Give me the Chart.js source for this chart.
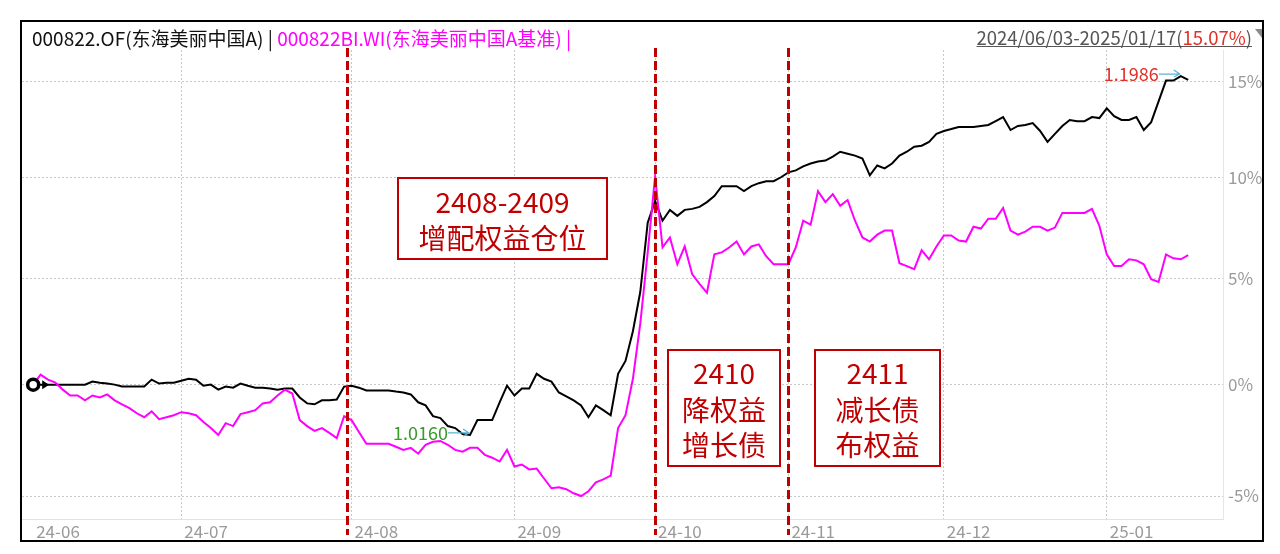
<!DOCTYPE html>
<html><head><meta charset="utf-8">
<script src="https://cdn.jsdelivr.net/npm/chart.js@4.4.1/dist/chart.umd.min.js"></script>
<style>html,body{margin:0;padding:0;background:#fff;}canvas{display:block;}</style>
</head><body>
<canvas id="c" width="1280" height="554"></canvas>
<script>
const fundName = '000822.OF(东海美丽中国A)';
const benchName = '000822BI.WI(东海美丽中国A基准)';
const periodText = '2024/06/03-2025/01/17';
const periodReturn = '15.07%';
const monthTickIndex = [0, 20, 43, 65, 84, 102, 123, 145];
const monthTickLabels = ['24-06', '24-07', '24-08', '24-09', '24-10', '24-11', '24-12', '25-01'];
const yTickPct = [-5, 0, 5, 10, 15];
const eventLineX = [42.4, 84, 102];
const eventBoxLines = [['2408-2409', '增配权益仓位'], ['2410', '降权益', '增长债'], ['2411', '减长债', '布权益']];
const fundMaxNav = '1.1986';
const fundMinNav = '1.0160';
// cumulative return in %, base day (index 0) then one value per trading day
const fundReturn = [0,
  0,0,0,0,0,0,0,0.14,0.09,0.05,
  0,-0.09,-0.09,-0.09,-0.09,0.23,0.05,0.09,0.09,0.18,
  0.27,0.23,-0.05,0,-0.23,-0.09,-0.14,0.05,-0.05,-0.14,
  -0.14,-0.18,-0.23,-0.18,-0.18,-0.59,-0.86,-0.9,-0.72,-0.72,
  -0.68,-0.09,-0.05,-0.14,-0.27,-0.27,-0.27,-0.27,-0.32,-0.36,
  -0.45,-0.81,-0.95,-1.44,-1.53,-1.89,-1.98,-2.25,-2.29,-1.62,
  -1.62,-1.62,-0.81,-0.05,-0.5,-0.18,-0.18,0.5,0.27,0.14,
  -0.36,-0.54,-0.72,-0.95,-1.49,-0.95,-1.17,-1.4,0.5,1.1,
  2.49,4.37,7.74,8.82,7.84,8.38,8.08,8.38,8.43,8.53,
  8.77,9.07,9.57,9.57,9.57,9.32,9.57,9.72,9.82,9.82,
  10.02,10.27,10.37,10.57,10.72,10.82,10.87,11.07,11.32,11.22,
  11.12,10.97,10.12,10.62,10.47,10.72,11.12,11.32,11.58,11.63,
  11.83,12.24,12.39,12.49,12.6,12.6,12.6,12.65,12.7,12.9,
  13.11,12.44,12.65,12.7,12.8,12.39,11.83,12.24,12.65,12.96,
  12.9,12.9,13.11,13.06,13.57,13.16,12.96,12.96,13.11,12.44,
  12.85,13.93,15.03,15.03,15.27,15.07];
const benchReturn = [0,
  0.46,0.23,0.09,-0.23,-0.5,-0.5,-0.72,-0.5,-0.59,-0.45,
  -0.72,-0.9,-1.08,-1.31,-1.49,-1.22,-1.58,-1.49,-1.4,-1.26,
  -1.31,-1.4,-1.71,-1.98,-2.29,-1.76,-1.89,-1.35,-1.26,-1.17,
  -0.86,-0.81,-0.5,-0.23,-0.41,-1.62,-1.89,-2.11,-1.98,-2.2,
  -2.43,-1.44,-1.62,-2.16,-2.69,-2.69,-2.69,-2.69,-2.82,-2.96,
  -2.87,-3.13,-2.73,-2.6,-2.56,-2.73,-2.96,-3.04,-2.87,-2.87,
  -3.18,-3.31,-3.48,-2.96,-3.7,-3.61,-3.83,-3.79,-4.23,-4.66,
  -4.62,-4.7,-4.88,-5.0,-4.79,-4.4,-4.27,-4.1,-1.98,-1.4,
  0.27,2.86,6.28,10.07,6.52,7.01,5.7,6.57,5.22,4.75,
  4.32,6.18,6.28,6.52,6.81,6.18,6.57,6.67,6.09,5.7,
  5.7,5.7,6.52,7.84,7.64,9.32,8.77,9.17,8.58,8.87,
  7.84,7.01,6.81,7.15,7.35,7.35,5.75,5.61,5.46,6.38,
  5.94,6.57,7.11,7.11,6.86,6.81,7.54,7.45,7.94,7.94,
  8.48,7.35,7.15,7.3,7.54,7.54,7.35,7.5,8.23,8.23,
  8.23,8.23,8.43,7.59,6.18,5.61,5.61,5.94,5.89,5.7,
  4.98,4.84,6.18,5.99,5.94,6.14];

const toPts = arr => arr.map((r, i) => ({x: i, y: 1 + r / 100}));
const FONT = '"Noto Sans CJK SC", "Noto Sans", sans-serif';

const deco = {
  id: 'deco',
  beforeDraw(chart) {
    const c = chart.ctx; c.save(); c.fillStyle = '#fff'; c.fillRect(0, 0, chart.width, chart.height); c.restore();
  },
  afterDatasetsDraw(chart) {
    const {ctx, chartArea: a, scales: {x, y}} = chart;
    ctx.save();
    // event dashed lines
    ctx.strokeStyle = '#c00000'; ctx.lineWidth = 3; ctx.setLineDash([9, 4]);
    eventLineX.forEach(v => {
      const px = Math.round(x.getPixelForValue(v)) + 0.5;
      ctx.beginPath(); ctx.moveTo(px, a.top - 2); ctx.lineTo(px, x.bottom - 6); ctx.stroke();
    });
    ctx.setLineDash([]);
    // annotation boxes
    const boxes = [
      {l: 398, t: 178, r: 607, b: 259, ys: [202, 238]},
      {l: 668, t: 350, r: 780, b: 466, ys: [373, 410, 445]},
      {l: 815, t: 350, r: 940, b: 466, ys: [373, 410, 445]}
    ];
    boxes.forEach((bx, k) => {
      ctx.fillStyle = '#fff'; ctx.fillRect(bx.l, bx.t, bx.r - bx.l, bx.b - bx.t);
      ctx.strokeStyle = '#c00000'; ctx.lineWidth = 2; ctx.strokeRect(bx.l, bx.t, bx.r - bx.l, bx.b - bx.t);
      ctx.fillStyle = '#c00000'; ctx.font = '28px ' + FONT; ctx.textAlign = 'center'; ctx.textBaseline = 'middle';
      eventBoxLines[k].forEach((s, j) => ctx.fillText(s, (bx.l + bx.r) / 2, bx.ys[j]));
    });
    // start marker
    const sx = x.getPixelForValue(0), sy = y.getPixelForValue(1);
    ctx.beginPath(); ctx.arc(sx, sy, 5.5, 0, Math.PI * 2); ctx.fillStyle = '#fff'; ctx.fill();
    ctx.lineWidth = 3.5; ctx.strokeStyle = '#000'; ctx.stroke();
    ctx.beginPath(); ctx.moveTo(sx + 9, sy - 4.5); ctx.lineTo(sx + 16, sy); ctx.lineTo(sx + 9, sy + 4.5); ctx.closePath(); ctx.fillStyle = '#000'; ctx.fill();
    // max / min labels
    let iMax = 0, iMin = 0;
    fundReturn.forEach((v, i) => { if (v > fundReturn[iMax]) iMax = i; if (v < fundReturn[iMin]) iMin = i; });
    const lab = (i, txt, col) => {
      const px = x.getPixelForValue(i), py = y.getPixelForValue(1 + fundReturn[i] / 100);
      const ay = py - 2;
      ctx.strokeStyle = '#59b4cf'; ctx.lineWidth = 1.2;
      ctx.beginPath(); ctx.moveTo(px - 22, ay); ctx.lineTo(px - 1, ay); ctx.moveTo(px - 7, ay - 4); ctx.lineTo(px - 1, ay); ctx.lineTo(px - 7, ay + 3); ctx.stroke();
      ctx.fillStyle = col; ctx.font = '18px ' + FONT; ctx.textAlign = 'right'; ctx.textBaseline = 'middle';
      ctx.fillText(txt, px - 22, ay);
    };
    lab(iMax, fundMaxNav, '#e0302a');
    lab(iMin, fundMinNav, '#3a9a2a');
    ctx.restore();
  },
  afterDraw(chart) {
    const ctx = chart.ctx;
    ctx.save();
    // frame
    ctx.strokeStyle = '#000'; ctx.lineWidth = 2;
    ctx.strokeRect(21, 21, 1242, 520);
    // header left
    ctx.font = '19px ' + FONT; ctx.textBaseline = 'middle'; ctx.textAlign = 'left';
    let hx = 32;
    const t1 = chart.data.datasets[0].label + ' | ';
    ctx.fillStyle = '#111'; ctx.fillText(t1, hx, 39); hx += ctx.measureText(t1).width;
    ctx.fillStyle = '#ff00ff'; ctx.fillText(chart.data.datasets[1].label + ' |', hx, 39);
    // header right
    ctx.font = '18.5px ' + FONT;
    const p1 = periodText + '(', p2 = periodReturn, p3 = ')';
    const w1 = ctx.measureText(p1).width, w2 = ctx.measureText(p2).width, w3 = ctx.measureText(p3).width;
    let rx = 1252 - (w1 + w2 + w3);
    ctx.fillStyle = '#555'; ctx.fillText(p1, rx, 38);
    ctx.fillStyle = '#e0302a'; ctx.fillText(p2, rx + w1, 38);
    ctx.fillStyle = '#555'; ctx.fillText(p3, rx + w1 + w2, 38);
    ctx.strokeStyle = '#555'; ctx.lineWidth = 1;
    ctx.beginPath(); ctx.moveTo(rx, 46.5); ctx.lineTo(1252, 46.5); ctx.stroke();
    ctx.fillStyle = '#8a8a8a';
    ctx.beginPath(); ctx.moveTo(1255, 29); ctx.lineTo(1262, 29); ctx.lineTo(1262, 38); ctx.closePath(); ctx.fill();
    ctx.restore();
  }
};

new Chart(document.getElementById('c'), {
  type: 'line',
  data: {
    datasets: [
      {label: fundName, data: toPts(fundReturn), borderColor: '#000', borderWidth: 2, pointRadius: 0, tension: 0, order: 1},
      {label: benchName, data: toPts(benchReturn), borderColor: '#ff00ff', borderWidth: 2, pointRadius: 0, tension: 0, order: 0}
    ]
  },
  options: {
    responsive: false, animation: false, devicePixelRatio: 1,
    layout: {padding: {left: 22, right: 17, top: 50, bottom: 13}},
    plugins: {legend: {display: false}, tooltip: {enabled: false}},
    scales: {
      x: {
        type: 'linear', min: -1.51, max: 160.7,
        afterBuildTicks: s => { s.ticks = monthTickIndex.map(v => ({value: v})); },
        afterFit: s => { s.height = 22; },
        ticks: {
          autoSkip: false, maxRotation: 0, align: 'start', padding: 2, labelOffset: 3,
          color: '#9a9a9a', font: {family: FONT, size: 17},
          callback: v => monthTickLabels[monthTickIndex.indexOf(v)]
        },
        grid: {color: ctx => (ctx.tick && ctx.tick.value === 0) ? 'rgba(0,0,0,0)' : '#c8c8c8', lineWidth: 1, drawTicks: false},
        border: {display: true, color: '#e2e2e2', width: 1, dash: [2, 2]}
      },
      y: {
        type: 'logarithmic', position: 'right', min: 0.9426, max: 1.1666,
        afterBuildTicks: s => { s.ticks = yTickPct.map(p => ({value: 1 + p / 100})); },
        afterFit: s => { s.width = 40; },
        ticks: {
          padding: 5, color: '#9a9a9a', font: {family: FONT, size: 17},
          callback: v => Math.round((v - 1) * 100) + '%'
        },
        grid: {color: '#c8c8c8', lineWidth: 1, drawTicks: false},
        border: {display: true, color: '#e6e6e6', width: 1, dash: [2, 2]}
      }
    }
  },
  plugins: [deco]
});
</script>
</body></html>
